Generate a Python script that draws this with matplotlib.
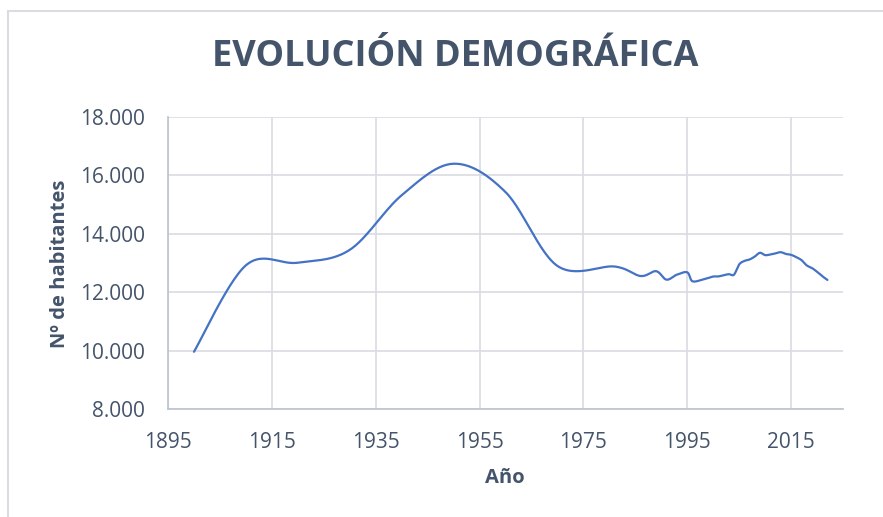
import numpy as np
import matplotlib
matplotlib.use("Agg")
from matplotlib import pyplot as plt
from matplotlib.patches import Rectangle

# datos
anios = [1900, 1910, 1920, 1930, 1940, 1950, 1960, 1970, 1981, 1986, 1989,
         1991, 1993, 1995, 1996, 1998, 1999, 2000, 2001, 2002, 2003, 2004,
         2005, 2006, 2007, 2008, 2009, 2010, 2011, 2012, 2013, 2014, 2015,
         2016, 2017, 2018, 2019, 2020, 2021, 2022]
habitantes = [9960, 12920, 13010, 13450, 15320, 16400, 15430, 12900, 12880,
              12555, 12720, 12430, 12600, 12680, 12375, 12434, 12480, 12537,
              12540, 12580, 12617, 12600, 12950, 13070, 13120, 13220, 13350,
              13270, 13290, 13330, 13370, 13310, 13280, 13200, 13100, 12920,
              12830, 12700, 12550, 12420]
xticks = [1895, 1915, 1935, 1955, 1975, 1995, 2015]
yticks = [8000, 10000, 12000, 14000, 16000, 18000]

C_TXT = "#44546A"
C_GRID = "#D9DCE3"
C_LINEA = "#4472C4"


def suavizar(x, y, n=30):
    # curva suavizada tipo Excel (bezier con tangentes catmull-rom)
    p = np.column_stack([x, y]).astype(float)
    p = np.vstack([p[0], p, p[-1]])
    out = []
    t = np.linspace(0, 1, n)[:, None]
    for i in range(1, len(p) - 2):
        p0, p1, p2, p3 = p[i - 1], p[i], p[i + 1], p[i + 2]
        c1 = p1 + (p2 - p0) / 6
        c2 = p2 - (p3 - p1) / 6
        seg = ((1 - t) ** 3) * p1 + 3 * ((1 - t) ** 2) * t * c1 \
            + 3 * (1 - t) * t ** 2 * c2 + t ** 3 * p2
        out.append(seg)
    out = np.vstack(out)
    return out[:, 0], out[:, 1]


plt.rcParams['font.family'] = ['Open Sans', 'DejaVu Sans']

fig = plt.figure(figsize=(8.83, 5.17), dpi=100)
W, H = 883, 517
ax = fig.add_axes([168 / W, 1 - 409 / H, (843 - 168) / W, (409 - 117) / H])

xs, ys = suavizar(anios, habitantes)
ax.plot(xs, ys, color=C_LINEA, lw=1.6, solid_capstyle='round')

ax.set_xlim(1895, 2025)
ax.set_ylim(8000, 18000)
ax.set_xticks(xticks)
ax.set_yticks(yticks)
ax.set_yticklabels([f"{v:,}".replace(",", ".") for v in yticks])
ax.grid(True, color=C_GRID, lw=1.2)
ax.set_axisbelow(True)
for s in ['top', 'right']:
    ax.spines[s].set_visible(False)
for s in ['left', 'bottom']:
    ax.spines[s].set_color("#BCC3CF")
    ax.spines[s].set_linewidth(1.2)
ax.tick_params(length=0, labelsize=15, colors=C_TXT)
ax.tick_params(axis='y', pad=16.5)
ax.tick_params(axis='x', pad=16.5)

fig.text(455 / W, 1 - 57 / H, "EVOLUCIÓN DEMOGRÁFICA", ha='center', va='center',
         fontsize=26, fontweight='bold', color=C_TXT)
fig.text(60 / W, 1 - 264 / H, "Nº de habitantes", ha='center', va='center',
         rotation=90, fontsize=14.5, fontweight='bold', color=C_TXT)
fig.text(505 / W, 1 - 478 / H, "Año", ha='center', va='center',
         fontsize=14.5, fontweight='bold', color=C_TXT)

# borde del area del grafico
fig.patches.append(Rectangle((8 / W, -0.1), 1.2, 1 - 11 / H + 0.1,
                             transform=fig.transFigure, fill=False,
                             edgecolor=C_GRID, lw=1.5))

fig.savefig("out.png", dpi=100)
